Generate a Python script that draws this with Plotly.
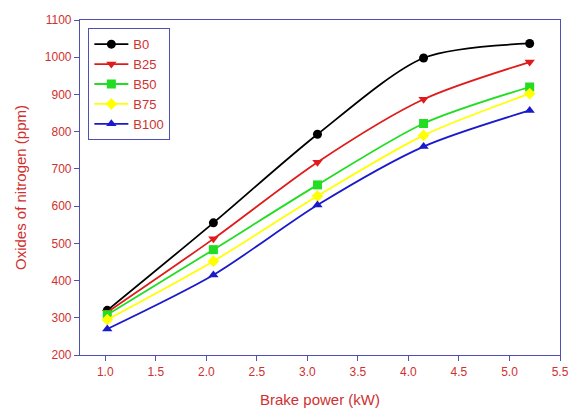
import plotly.graph_objects as go

brake_power = [1.02, 2.07, 3.1, 4.15, 5.2]
series_names = ["B0", "B25", "B50", "B75", "B100"]
b0 = [320, 555, 793, 998, 1037]
b25 = [315, 512, 718, 887, 987]
b50 = [308, 483, 657, 822, 920]
b75 = [295, 452, 627, 790, 902]
b100 = [270, 415, 603, 760, 857]
series_values = [b0, b25, b50, b75, b100]

colors = ["#000000", "#e01b1b", "#22dd22", "#ffff00", "#1a1acc"]
symbols = ["circle", "triangle-down", "square", "diamond", "triangle-up"]

fig = go.Figure()
for name, vals, c, s in zip(series_names, series_values, colors, symbols):
    fig.add_trace(go.Scatter(
        x=brake_power, y=vals, name=name, mode="lines+markers",
        line=dict(color=c, width=1.8, shape="spline", smoothing=0.8),
        marker=dict(color=c, symbol=s, size=9),
    ))

axis_col = "#5050b4"
label_col = "#d03030"
fig.update_layout(
    width=570, height=411,
    margin=dict(l=80, r=10, t=20, b=56),
    paper_bgcolor="white", plot_bgcolor="white",
    font=dict(family="Liberation Sans, Arial, sans-serif", color=label_col),
    showlegend=True,
    legend=dict(
        x=0.017, y=0.976, xanchor="left", yanchor="top",
        bordercolor=axis_col, borderwidth=1.2, bgcolor="white",
        font=dict(size=13, color=label_col),
        tracegroupgap=0, itemwidth=34,
    ),
    xaxis=dict(
        range=[0.75, 5.5], tickvals=[1.0, 1.5, 2.0, 2.5, 3.0, 3.5, 4.0, 4.5, 5.0, 5.5],
        ticktext=["1.0", "1.5", "2.0", "2.5", "3.0", "3.5", "4.0", "4.5", "5.0", "5.5"],
        showline=True, linecolor=axis_col, linewidth=1.2, mirror=True,
        ticks="outside", tickcolor=axis_col, ticklen=5, showgrid=False, zeroline=False,
        tickfont=dict(size=12, color=label_col), automargin=False,
        title=dict(text="Brake power (kW)", font=dict(size=15, color=label_col), standoff=16),
    ),
    yaxis=dict(
        range=[200, 1100], dtick=100,
        showline=True, linecolor=axis_col, linewidth=1.2, mirror=True,
        ticks="outside", tickcolor=axis_col, ticklen=5, showgrid=False, zeroline=False,
        tickfont=dict(size=12, color=label_col), automargin=False,
        title=dict(text="Oxides of nitrogen (ppm)", font=dict(size=15, color=label_col), standoff=14),
    ),
)

fig.write_html("out.html")
